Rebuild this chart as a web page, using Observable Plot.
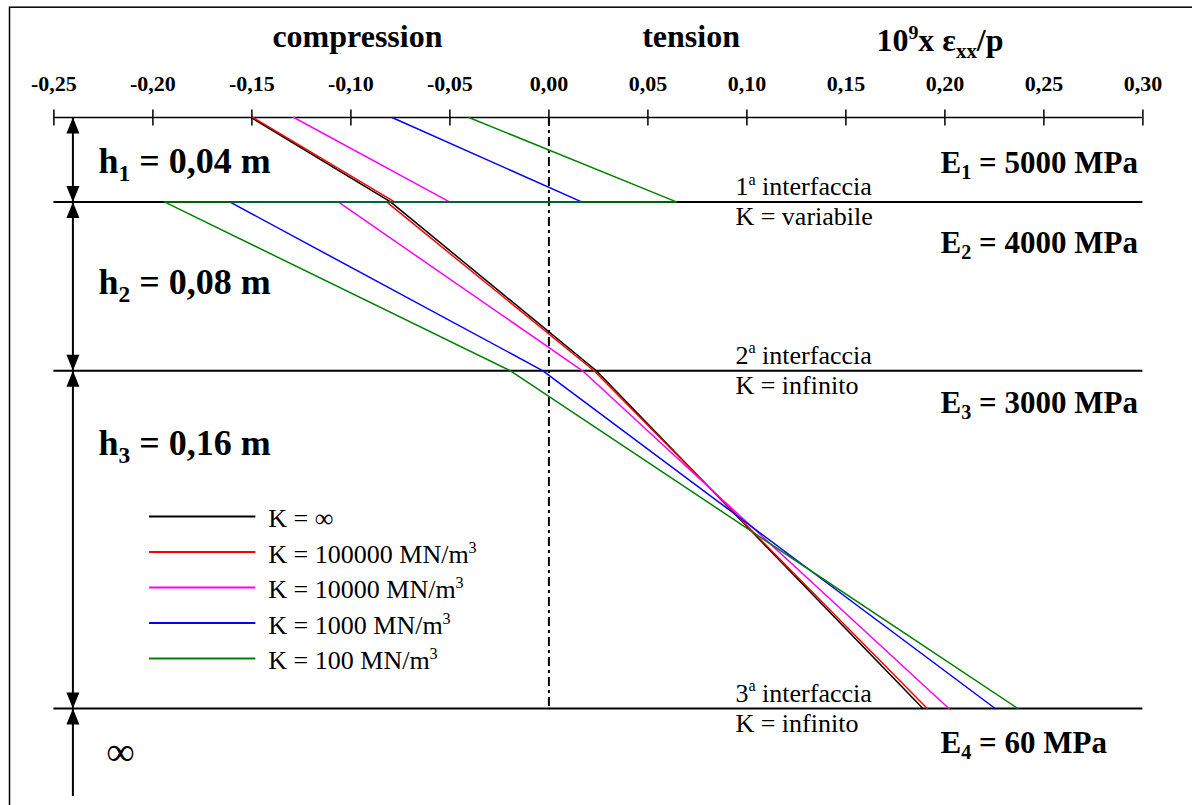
<!DOCTYPE html>
<html>
<head>
<meta charset="utf-8">
<script src="https://cdn.jsdelivr.net/npm/d3@7"></script>
<script src="https://cdn.jsdelivr.net/npm/@observablehq/plot@0.6"></script>
<style>
  html, body { margin: 0; padding: 0; background: #fff; }
  #chart svg { display: block; overflow: hidden; }
</style>
</head>
<body>
<div id="chart"></div>
<script>
// ---------------- data ----------------
// depth (m) of the points of every profile: top, bottom of layer 1, top of layer 2, interface 2, interface 3
const depths = [0, 0.04, 0.04, 0.12, 0.28];
const seriesNames = ["K = ∞", "K = 100000 MN/m^{3}", "K = 10000 MN/m^{3}", "K = 1000 MN/m^{3}", "K = 100 MN/m^{3}"];
const seriesColors = ["#000000", "#ff0000", "#ff00ff", "#0000ff", "#008000"];
// 10^9 x eps_xx / p at the depths above
const strainKinf    = [-0.1504, -0.0800, -0.0800, 0.0240, 0.1889];
const strainK100000 = [-0.1495, -0.0780, -0.0820, 0.0228, 0.1911];
const strainK10000  = [-0.1288, -0.0502, -0.1064, 0.0170, 0.2020];
const strainK1000   = [-0.0792, 0.0165, -0.1612, -0.0030, 0.2254];
const strainK100    = [-0.0404, 0.0644, -0.1942, -0.0194, 0.2368];
const xTicks = [-0.25, -0.20, -0.15, -0.10, -0.05, 0.00, 0.05, 0.10, 0.15, 0.20, 0.25, 0.30];
const interfaces = [0.04, 0.12, 0.28];
const interfaceNames = ["1^{a} interfaccia", "2^{a} interfaccia", "3^{a} interfaccia"];
const interfaceK = ["K = variabile", "K = infinito", "K = infinito"];
const layerLabels = ["h_{1} = 0,04 m", "h_{2} = 0,08 m", "h_{3} = 0,16 m"];
const moduliLabels = ["E_{1} = 5000 MPa", "E_{2} = 4000 MPa", "E_{3} = 3000 MPa", "E_{4} = 60 MPa"];
const headerLabels = ["compression", "tension"];
const unitLabel = "10^{9}x ε_{xx}/p";

// ---------------- build table ----------------
const allStrains = [strainKinf, strainK100000, strainK10000, strainK1000, strainK100];
const profiles = [];
allStrains.forEach((arr, s) => arr.forEach((v, i) => profiles.push({series: seriesNames[s], x: v, depth: depths[i]})));

const FONT = "Liberation Serif, Times New Roman, serif";
const X0 = -0.25, X1 = 0.30;
const arrowX = -0.2404;

const arrowUp = {draw(ctx) { ctx.moveTo(0, 0); ctx.lineTo(6.5, 16); ctx.lineTo(-6.5, 16); ctx.closePath(); }};
const arrowDown = {draw(ctx) { ctx.moveTo(0, 0); ctx.lineTo(6.5, -16); ctx.lineTo(-6.5, -16); ctx.closePath(); }};
const tickBar = {draw(ctx) { ctx.moveTo(0, -8); ctx.lineTo(0, 8); }};

const layerLabelPos = [0.0265, 0.0835, 0.1601];
const moduliPos = [0.0261, 0.0640, 0.1398, 0.3009];

const chart = Plot.plot({
  width: 1192,
  height: 805,
  marginLeft: 53.4,
  marginRight: 49.6,
  marginTop: 117,
  marginBottom: 97,
  style: {fontFamily: FONT, background: "#fff", color: "#000"},
  x: {domain: [X0, X1]},
  y: {domain: [0, 0.28], reverse: true, axis: null},
  color: {domain: seriesNames, range: seriesColors},
  marks: [
    Plot.frame({stroke: "#000", strokeWidth: 1.5, insetLeft: -44.4, insetTop: -110.3, insetRight: -80, insetBottom: -120}),
    // interfaces and axis line
    Plot.ruleY(interfaces, {x1: X0, x2: X1, stroke: "#000", strokeWidth: 2}),
    Plot.ruleY([0], {x1: X0, x2: X1, stroke: "#000", strokeWidth: 1.5}),
    Plot.dot(xTicks, {x: d => d, y: 0, symbol: tickBar, stroke: "#000", fill: "none", strokeWidth: 1.5}),
    Plot.axisX({anchor: "top", ticks: xTicks, tickSize: 0, tickPadding: 27, label: null,
      tickFormat: d => d.toFixed(2).replace(".", ","), fontSize: 22, fontWeight: "bold", fontFamily: FONT, fill: "#000"}),
    // zero line
    Plot.ruleX([0], {y1: 0, y2: 0.28, stroke: "#000", strokeWidth: 2, strokeDasharray: "9,4,3,4"}),
    // profiles
    Plot.line(profiles, {x: "x", y: "depth", z: "series", stroke: "series", strokeWidth: 1.5}),
    // left dimension arrows
    Plot.ruleX([arrowX], {y1: 0, y2: 0.3217, stroke: "#000", strokeWidth: 2}),
    Plot.dot([0, ...interfaces], {x: arrowX, y: d => d, symbol: arrowUp, fill: "#000", stroke: "none"}),
    Plot.dot(interfaces, {x: arrowX, y: d => d, symbol: arrowDown, fill: "#000", stroke: "none"}),
    // headers
    Plot.text(headerLabels, {x: [-0.0967, 0.0718], y: -0.0333, text: d => d, textAnchor: "middle", lineAnchor: "bottom",
      fontSize: 32, fontWeight: "bold", fontFamily: FONT, fill: "#000"}),
    Plot.text([unitLabel], {x: 0.1654, y: -0.0313, text: d => d, textAnchor: "start", lineAnchor: "bottom",
      fontSize: 32, fontWeight: "bold", fontFamily: FONT, fill: "#000"}),
    // layer thickness labels
    Plot.text(layerLabels, {x: -0.2275, y: (d, i) => layerLabelPos[i], text: d => d, textAnchor: "start", lineAnchor: "bottom",
      fontSize: 36, fontWeight: "bold", fontFamily: FONT, fill: "#000"}),
    // moduli labels
    Plot.text(moduliLabels, {x: 0.1978, y: (d, i) => moduliPos[i], text: d => d, textAnchor: "start", lineAnchor: "bottom",
      fontSize: 31, fontWeight: "bold", fontFamily: FONT, fill: "#000"}),
    // interface labels
    Plot.text(interfaces, {x: 0.0942, y: d => d, text: (d, i) => interfaceNames[i], textAnchor: "start", lineAnchor: "bottom",
      dy: -7, fontSize: 26, fontFamily: FONT, fill: "#000"}),
    Plot.text(interfaces, {x: 0.0942, y: d => d, text: (d, i) => interfaceK[i], textAnchor: "start", lineAnchor: "bottom",
      dy: 23, fontSize: 26, fontFamily: FONT, fill: "#000"}),
    // half-space symbol
    Plot.text(["∞"], {x: -0.2235, y: 0.3070, text: d => d, textAnchor: "start", lineAnchor: "bottom",
      fontSize: 40, fontFamily: FONT, fill: "#000"}),
    // legend
    Plot.ruleY(seriesNames, {x1: -0.2017, x2: -0.148, y: (d, i) => 0.1890 + i * 0.01682, stroke: d => d, strokeWidth: 2}),
    Plot.text(seriesNames, {x: -0.1417, y: (d, i) => 0.1890 + i * 0.01682, text: d => d, textAnchor: "start", lineAnchor: "bottom",
      dy: 11, fontSize: 26, fontFamily: FONT, fill: "#000"})
  ]
});

document.getElementById("chart").append(chart);

// rich text: _{..} subscript, ^{..} superscript
const re = /([_^])\{([^}]*)\}|([^_^]+)/g;
d3.select(chart).selectAll("text").each(function () {
  const t = this.textContent;
  if (!/[_^]\{/.test(t)) return;
  const fs = parseFloat(getComputedStyle(this).fontSize) || 20;
  this.textContent = "";
  let off = 0;
  for (const m of t.matchAll(re)) {
    const ts = d3.select(this).append("tspan");
    let target = 0;
    if (m[1] === "_") { target = fs * 0.22; ts.attr("font-size", fs * 0.65).text(m[2]); }
    else if (m[1] === "^") { target = -fs * 0.40; ts.attr("font-size", fs * 0.62).text(m[2]); }
    else ts.text(m[3]);
    if (target !== off) ts.attr("dy", target - off);
    off = target;
  }
});
</script>
</body>
</html>
